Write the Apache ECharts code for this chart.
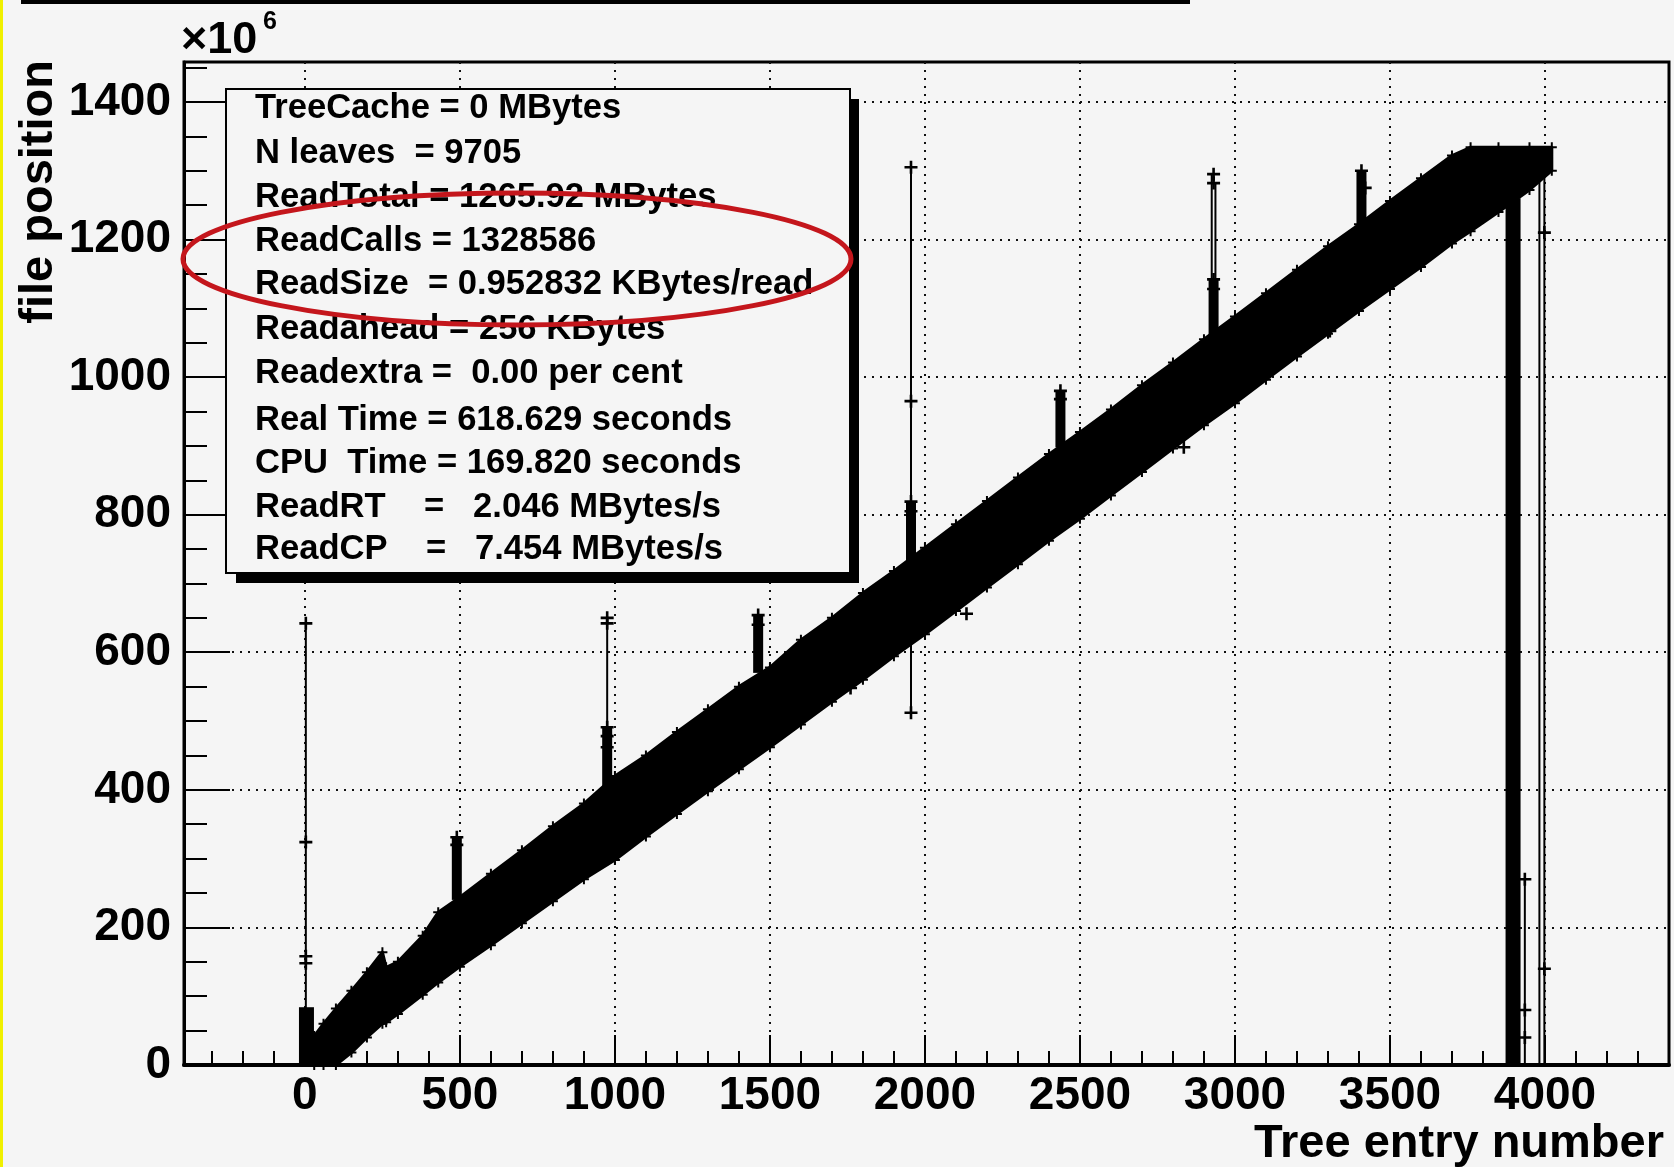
<!DOCTYPE html>
<html>
<head>
<meta charset="utf-8">
<script src="https://cdn.jsdelivr.net/npm/echarts@6/dist/echarts.min.js"></script>
<style>
html,body{margin:0;padding:0;background:#f5f5f5;}
#c{width:1674px;height:1167px;}
</style>
</head>
<body>
<div id="c"></div>
<script>
// ---- axis ticks ----
const majorX = [0, 500, 1000, 1500, 2000, 2500, 3000, 3500, 4000];
const minorX = [-300, -200, -100, 100, 200, 300, 400, 600, 700, 800, 900, 1100, 1200, 1300, 1400,
  1600, 1700, 1800, 1900, 2100, 2200, 2300, 2400, 2600, 2700, 2800, 2900, 3100, 3200, 3300, 3400,
  3600, 3700, 3800, 3900, 4100, 4200, 4300];
const majorY = [0, 200, 400, 600, 800, 1000, 1200, 1400];
const minorY = [50, 100, 150, 250, 300, 350, 450, 500, 550, 650, 700, 750, 850, 900, 950,
  1050, 1100, 1150, 1250, 1300, 1350, 1450];

// ---- dense band of (entry, file position x1e6) ----
const bandX    = [30, 60, 100, 150, 200, 250, 262, 300, 380, 430, 500, 600, 700, 800, 900, 1000, 1100, 1200, 1300, 1400, 1500, 1600, 1700, 1800, 1900, 2000, 2100, 2200, 2300, 2400, 2500, 2600, 2700, 2800, 2900, 3000, 3100, 3200, 3300, 3400, 3500, 3600, 3700, 3760, 3850, 3950, 4022];
const bandHigh = [42, 60, 82, 108, 135, 164, 142, 150, 188, 222, 244, 278, 312, 347, 380, 420, 450, 484, 517, 550, 578, 618, 650, 686, 718, 752, 786, 820, 854, 888, 920, 953, 988, 1021, 1055, 1088, 1122, 1156, 1190, 1222, 1256, 1289, 1322, 1334, 1334, 1334, 1334];
const bandLow  = [0, 0, 0, 18, 40, 60, 62, 74, 102, 120, 143, 174, 206, 238, 270, 298, 332, 365, 398, 430, 462, 495, 528, 560, 594, 626, 660, 694, 728, 762, 794, 828, 862, 896, 930, 962, 996, 1030, 1063, 1096, 1128, 1160, 1194, 1212, 1240, 1272, 1300];

// ---- spikes: [entry, low, high] ----
const thinSpikes = [[3, 0, 642], [975, 404, 650], [1955, 512, 1305], [2925, 1050, 1295], [2937, 1050, 1282],
  [3935, 0, 270], [3982, 0, 1300], [3998, 0, 1300]];
const barSpikes = [[490, 240, 331], [975, 404, 491], [1462, 570, 654], [1955, 726, 819], [2437, 898, 980],
  [2931, 1050, 1142], [3408, 1220, 1300]];
const wideSpikes = [[5, 0, 84], [3897, 0, 1260]];

// ---- isolated "+" markers ----
const crossPts = [[3, 642], [3, 324], [3, 158], [3, 148], [975, 650], [975, 642], [975, 491], [975, 478], [975, 462],
  [490, 331], [490, 320], [1462, 654], [1462, 640], [1955, 1305], [1955, 965], [1955, 819], [1955, 805], [1955, 512],
  [2931, 1295], [2931, 1282], [2931, 1142], [2931, 1128], [2437, 980], [2437, 968], [3408, 1300], [3420, 1275],
  [3998, 1210], [3998, 140], [3935, 270], [3935, 80], [3935, 40], [2134, 656], [2835, 898], [3306, 1067], [1760, 548]];

const statsLines = [
  'TreeCache = 0 MBytes',
  'N leaves  = 9705',
  'ReadTotal = 1265.92 MBytes',
  'ReadCalls = 1328586',
  'ReadSize  = 0.952832 KBytes/read',
  'Readahead = 256 KBytes',
  'Readextra =  0.00 per cent',
  'Real Time = 618.629 seconds',
  'CPU  Time = 169.820 seconds',
  'ReadRT    =   2.046 MBytes/s',
  'ReadCP    =   7.454 MBytes/s'
];
const statsY = [108, 153, 197, 241, 284, 329, 373, 420, 463, 507, 549];

const FONT = '"Liberation Sans", Arial, Helvetica, sans-serif';
const PLUS = 'path://M0,4H10V6H0Z M4,0H6V10H4Z';

const chart = echarts.init(document.getElementById('c'), null, {renderer: 'canvas'});

const plain = v => String(v);

function mkX(ticks, len, labels, split) {
  return {
    type: 'value', min: -390, max: 4400, position: 'bottom', gridIndex: 0,
    axisLine: {show: labels, onZero: false, lineStyle: {color: '#000', width: 4}},
    axisTick: {show: true, inside: true, length: len, customValues: ticks, lineStyle: {color: '#000', width: 2}},
    axisLabel: labels ? {show: true, customValues: ticks, formatter: plain, margin: 8, color: '#000', fontSize: 46, fontWeight: 'bold', fontFamily: FONT} : {show: false},
    splitLine: {show: split, lineStyle: {color: '#111', width: 2, type: [2, 6]}},
    minorTick: {show: false}
  };
}
function mkY(ticks, len, labels, split) {
  return {
    type: 'value', min: 0, max: 1458, position: 'left', gridIndex: 0,
    axisLine: {show: labels, onZero: false, lineStyle: {color: '#000', width: 3}},
    axisTick: {show: true, inside: true, length: len, customValues: ticks, lineStyle: {color: '#000', width: 2}},
    axisLabel: labels ? {show: true, customValues: ticks, formatter: plain, margin: 13, color: '#000', fontSize: 46, fontWeight: 'bold', fontFamily: FONT} : {show: false},
    splitLine: {show: split, lineStyle: {color: '#111', width: 2, type: [2, 6]}},
    minorTick: {show: false}
  };
}

function spikeSeries(data, kind, w) {
  return {
    type: 'custom', xAxisIndex: 0, yAxisIndex: 0, clip: true, silent: true,
    encode: {x: 0, y: [1, 2]},
    data: data,
    renderItem: function (params, api) {
      const x = api.value(0), lo = api.value(1), hi = api.value(2);
      const p1 = api.coord([x, lo]), p2 = api.coord([x, hi]);
      if (kind === 'line') {
        return {type: 'line', shape: {x1: p1[0], y1: p1[1], x2: p2[0], y2: p2[1]}, style: {stroke: '#000', lineWidth: w}};
      }
      return {type: 'rect', shape: {x: p1[0] - w / 2, y: p2[1], width: w, height: p1[1] - p2[1]}, style: {fill: '#000'}};
    }
  };
}

const edgePts = bandX.map((x, i) => [x, bandHigh[i]]).concat(bandX.map((x, i) => [x, bandLow[i]]));

const option = {
  animation: false,
  backgroundColor: '#f5f5f5',
  grid: {left: 184, right: 5, top: 62, bottom: 102, show: true, borderColor: '#000', borderWidth: 3,
    backgroundColor: 'transparent', containLabel: false, outerBoundsMode: 'none'},
  xAxis: [mkX(majorX, 30, true, true), mkX(minorX, 14, false, false)],
  yAxis: [mkY(majorY, 46, true, true), mkY(minorY, 23, false, false)],
  series: [
    {
      type: 'custom', xAxisIndex: 0, yAxisIndex: 0, clip: true, silent: true,
      data: [[0, 0]],
      renderItem: function (params, api) {
        const pts = [];
        for (let i = 0; i < bandX.length; i++) pts.push(api.coord([bandX[i], bandHigh[i]]));
        for (let i = bandX.length - 1; i >= 0; i--) pts.push(api.coord([bandX[i], bandLow[i]]));
        return {type: 'polygon', shape: {points: pts}, style: {fill: '#000', stroke: '#000', lineWidth: 3, lineJoin: 'round'}};
      }
    },
    {
      type: 'scatter', xAxisIndex: 0, yAxisIndex: 0, silent: true,
      symbol: PLUS, symbolSize: 10, itemStyle: {color: '#000', opacity: 1},
      data: edgePts
    },
    spikeSeries(thinSpikes, 'line', 2),
    spikeSeries(barSpikes, 'rect', 10),
    spikeSeries(wideSpikes, 'rect', 15),
    {
      type: 'scatter', xAxisIndex: 0, yAxisIndex: 0, silent: true,
      symbol: PLUS, symbolSize: 13, itemStyle: {color: '#000', opacity: 1},
      data: crossPts
    }
  ],
  graphic: {
    elements: [
      {type: 'rect', z: 100, shape: {x: 0, y: 0, width: 3, height: 1167}, style: {fill: '#f0f000'}},
      {type: 'rect', z: 100, shape: {x: 21, y: 0, width: 1169, height: 4}, style: {fill: '#000'}},
      {type: 'text', z: 100, x: 181, y: 41, style: {text: '×10', font: 'bold 45px ' + FONT, fill: '#000', align: 'left', verticalAlign: 'middle'}},
      {type: 'text', z: 100, x: 263, y: 22, style: {text: '6', font: 'bold 25px ' + FONT, fill: '#000', align: 'left', verticalAlign: 'middle'}},
      {type: 'text', z: 100, x: 39, y: 60, rotation: Math.PI / 2, style: {text: 'file position', font: 'bold 47px ' + FONT, fill: '#000', align: 'right', verticalAlign: 'middle'}},
      {type: 'text', z: 100, x: 1664, y: 1144, style: {text: 'Tree entry number', font: 'bold 47px ' + FONT, fill: '#000', align: 'right', verticalAlign: 'middle'}},
      {type: 'rect', z: 100, shape: {x: 236, y: 99, width: 623, height: 484}, style: {fill: '#000'}},
      {type: 'rect', z: 101, shape: {x: 226, y: 89, width: 624, height: 484}, style: {fill: '#f5f5f5', stroke: '#000', lineWidth: 2}}
    ].concat(statsLines.map((t, i) => ({
      type: 'text', z: 102, x: 255, y: statsY[i],
      style: {text: t, font: 'bold 34.6px ' + FONT, fill: '#000', align: 'left', verticalAlign: 'middle'}
    }))).concat([
      {type: 'ellipse', z: 103, shape: {cx: 517, cy: 259, rx: 334, ry: 66}, style: {fill: 'none', stroke: '#c4161c', lineWidth: 5}}
    ])
  }
};
chart.setOption(option);
</script>
</body>
</html>
